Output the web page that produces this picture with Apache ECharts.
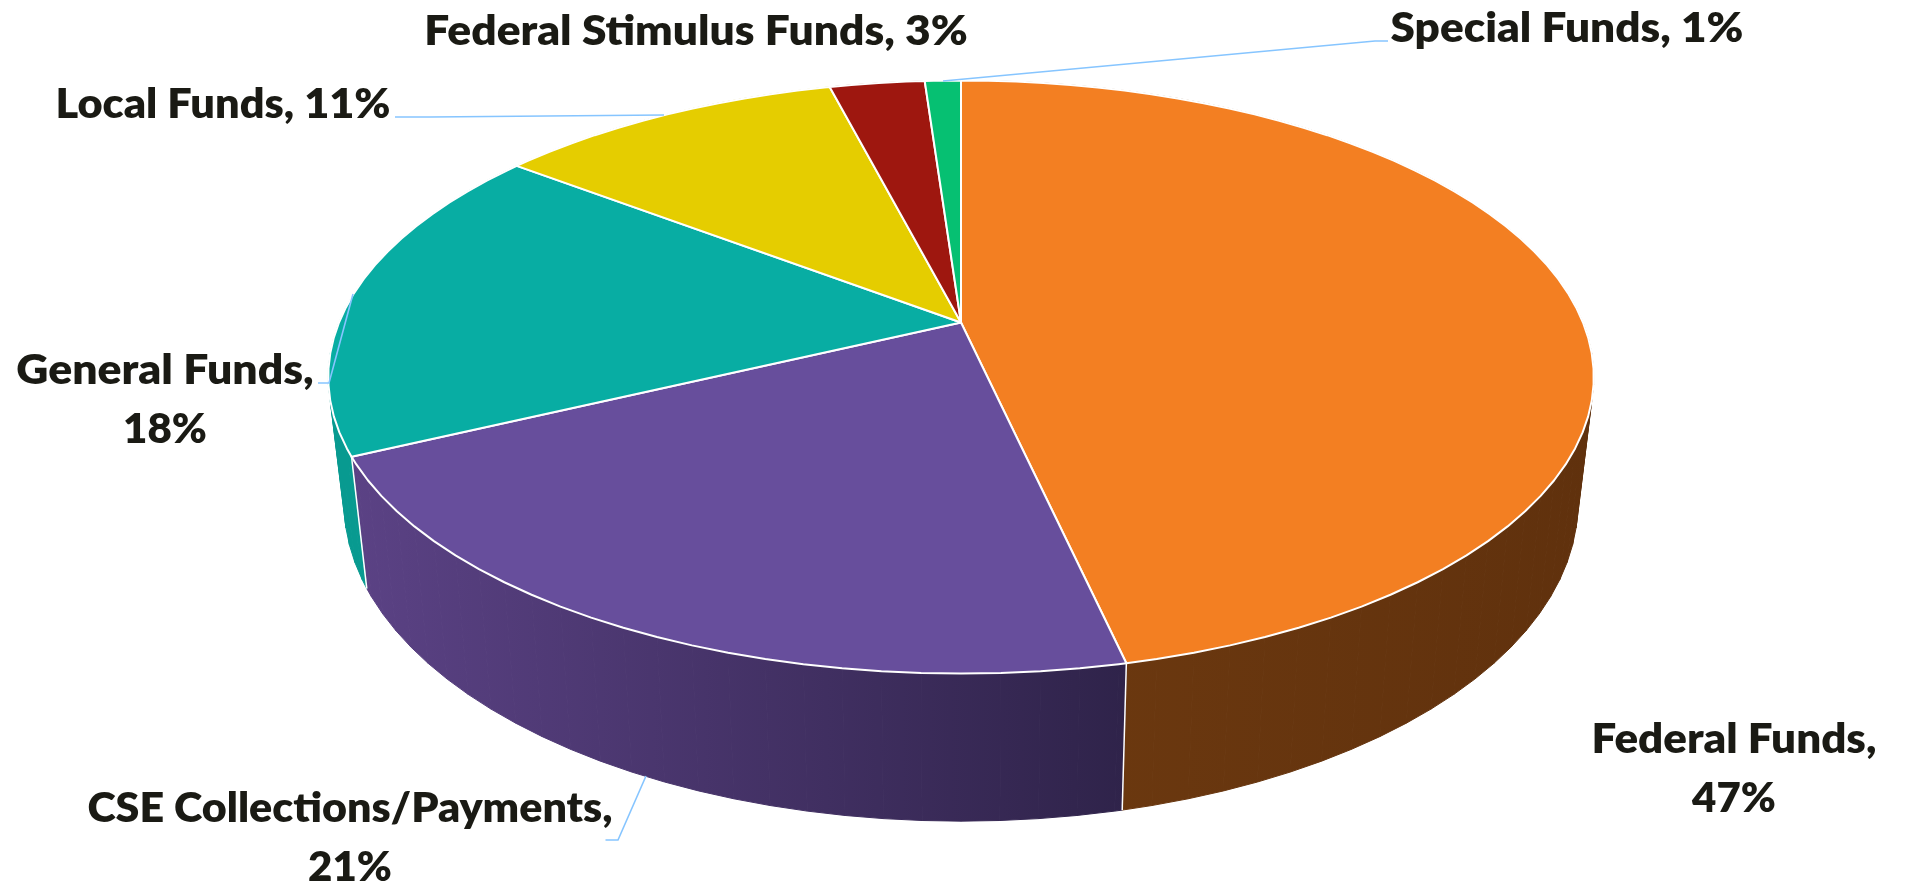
<!DOCTYPE html>
<html>
<head>
<meta charset="utf-8">
<style>html,body{margin:0;padding:0;background:#fff}#c{width:1908px;height:882px}</style>
<script src="https://cdn.jsdelivr.net/npm/echarts@6/dist/echarts.min.js"></script>
</head>
<body>
<div id="c"></div>
<script>
// ---- data (clockwise from 12 o'clock) ----
const categories = ['Federal Funds', 'CSE Collections/Payments', 'General Funds', 'Local Funds', 'Federal Stimulus Funds', 'Special Funds'];
const shareValues = [46.5, 21.4, 17.5, 10.6, 2.9, 1.1];
const shownPercent = ['47%', '21%', '18%', '11%', '3%', '1%'];
// ---- styles ----
const topColors = ['#f37f22', '#674e9c', '#08ada3', '#e5cd00', '#9e170f', '#06c072'];
const wallLeft = ['#6e3a10', '#5b4285', '#089a90', '#b9a500', '#7a120c', '#059a5c'];
const wallRight = ['#60310d', '#2f234a', '#089a90', '#b9a500', '#7a120c', '#059a5c'];
// ---- 3D projection geometry ----
const APEX = { x: 961, y: 322.5 }, RX = 622, RY = 286.5, K = 0.1838;
const WALL = { sx: 0.975, d0: 122, dk: 0.073 };
const STEP = 3;
// ---- label layout ----
const FONT = '800 42px Lato, "Open Sans", sans-serif';
const BASE_OFFSET = 13;
const TEXT_COLOR = '#1a1a14';
const LEADER = '#86c5ff';
const labelPos = [
  { x: 1734, y: 752, y2: 811, sx: 1.045 },
  { x: 350, y: 821, y2: 880, sx: 1.024 },
  { x: 165, y: 383, y2: 442, sx: 1.06 },
  { x: 223, y: 117, y2: null, sx: 1.03 },
  { x: 696, y: 44, y2: null, sx: 1.055 },
  { x: 1567, y: 41, y2: null, sx: 1.05 }
];
const leaderPts = [
  null,
  [[605.5, 840], [618, 840], [646, 776]],
  [[318, 383], [329, 383], [353, 294]],
  [[395, 117], [430, 117], [664, 115]],
  null,
  [[1388, 41], [1375, 41], [943, 81]]
];

function project(deg) {
  const t = deg * Math.PI / 180, u = Math.sin(t), v = -Math.cos(t), w = 1 - K * v;
  return [APEX.x + RX * u / w, APEX.y + RY * v / w];
}
function lower(p) {
  return [APEX.x + WALL.sx * (p[0] - APEX.x), p[1] + WALL.d0 + WALL.dk * (p[1] - APEX.y)];
}
const totalShare = shareValues.reduce((a, b) => a + b, 0);
function sliceAngles(i) {
  let s = 0;
  for (let k = 0; k < i; k++) s += shareValues[k];
  return [s / totalShare * 360, (s + shareValues[i]) / totalShare * 360];
}
function arc(a0, a1) {
  const pts = [project(a0)];
  for (let a = Math.ceil(a0 / STEP + 1e-6) * STEP; a < a1 - 1e-6; a += STEP) pts.push(project(a));
  pts.push(project(a1));
  return pts;
}
const rows = shareValues.map((v, i) => [i, v]);

function renderWall(params, api) {
  const i = api.value(0), [a0, a1] = sliceAngles(i), top = arc(a0, a1);
  const bot = top.map(lower);
  const xs = top.concat(bot).map(p => p[0]);
  const grad = new echarts.graphic.LinearGradient(Math.min(...xs), 0, Math.max(...xs), 0, [
    { offset: 0, color: wallLeft[i] }, { offset: 1, color: wallRight[i] }
  ], true);
  const children = [];
  for (let n = 0; n < top.length - 1; n++) {
    children.push({
      type: 'polygon',
      shape: { points: [top[n], top[n + 1], bot[n + 1], bot[n]] },
      style: { fill: grad, stroke: grad, lineWidth: 1 }
    });
  }
  return { type: 'group', children: children };
}
function renderEdge(params, api) {
  const i = api.value(0), a0 = sliceAngles(i)[0], p = project(a0), q = lower(p);
  return {
    type: 'line',
    shape: { x1: p[0], y1: p[1], x2: q[0], y2: q[1] },
    style: { stroke: '#ffffff', lineWidth: 1.5 }
  };
}
function renderTop(params, api) {
  const i = api.value(0), [a0, a1] = sliceAngles(i);
  return {
    type: 'polygon',
    shape: { points: [[APEX.x, APEX.y]].concat(arc(a0, a1)) },
    style: { fill: topColors[i], stroke: '#ffffff', lineWidth: 2, lineJoin: 'round' }
  };
}
function renderLabel(params, api) {
  const i = api.value(0), pos = labelPos[i], children = [];
  if (leaderPts[i]) children.push({
    type: 'polyline', shape: { points: leaderPts[i] },
    style: { fill: null, stroke: LEADER, lineWidth: 1.6 }
  });
  const mk = (text, y, sx) => ({
    type: 'text', x: pos.x, y: y - BASE_OFFSET, scaleX: sx,
    style: { text: text, x: 0, y: 0, font: FONT, fill: TEXT_COLOR, align: 'center', verticalAlign: 'middle' }
  });
  if (pos.y2 === null) {
    children.push(mk(categories[i] + ', ' + shownPercent[i], pos.y, pos.sx));
  } else {
    children.push(mk(categories[i] + ',', pos.y, pos.sx));
    children.push(mk(shownPercent[i], pos.y2, 1));
  }
  return { type: 'group', children: children };
}

const chart = echarts.init(document.getElementById('c'), null, { renderer: 'canvas' });
const baseSeries = { type: 'custom', coordinateSystem: 'none', silent: true, data: rows };
chart.setOption({
  animation: false,
  backgroundColor: '#ffffff',
  series: [
    Object.assign({}, baseSeries, { z: 1, renderItem: renderWall }),
    Object.assign({}, baseSeries, { z: 2, renderItem: renderEdge }),
    Object.assign({}, baseSeries, { z: 3, renderItem: renderTop }),
    Object.assign({}, baseSeries, { z: 4, renderItem: renderLabel })
  ]
});
</script>
</body>
</html>
